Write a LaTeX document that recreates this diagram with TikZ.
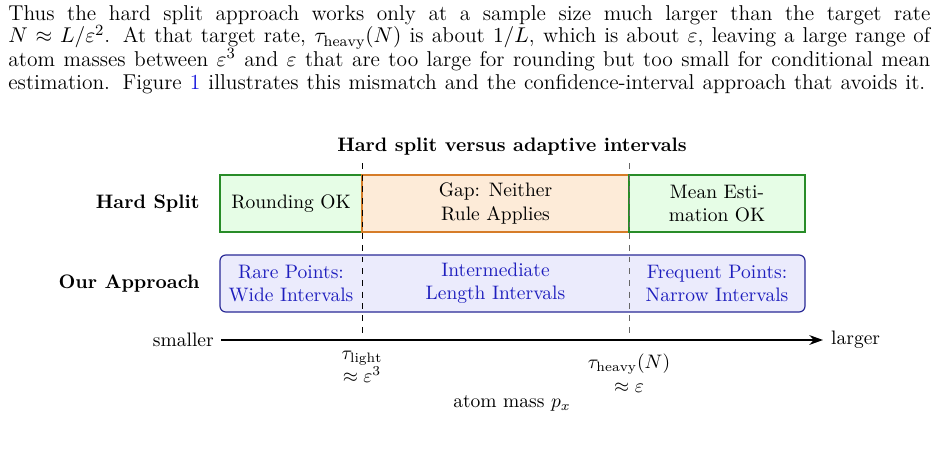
\documentclass[tikz,border=0pt]{standalone}
\usepackage{fontspec}
\usetikzlibrary{arrows.meta}
\newcommand\pxu{0.5128pt}
\definecolor{boxgreen}{RGB}{230,253,230}
\definecolor{linegreen}{RGB}{40,140,40}
\definecolor{boxorange}{RGB}{253,235,216}
\definecolor{lineorange}{RGB}{214,124,40}
\definecolor{boxblue}{RGB}{235,235,252}
\definecolor{lineblue}{RGB}{40,40,150}
\definecolor{textblue}{RGB}{30,30,190}
\definecolor{linkblue}{RGB}{20,20,220}
\tikzset{
  paraline/.style={anchor=base west, inner sep=0pt, font=\fontsize{11}{13}\selectfont},
  zonebox/.style={draw, line width=0.6pt, inner sep=0pt, align=center},
  rowlabel/.style={anchor=east, font=\bfseries, inner sep=0pt},
  bluetext/.style={text=textblue, align=center, inner sep=0pt},
  divider/.style={dashed, line width=0.5pt},
}
\begin{document}
\begin{tikzpicture}[x=0.5128pt,y=-0.5128pt]
\useasboundingbox (0,0) rectangle (937,451);
% paragraph
\node[paraline] (p1) at (8,20) {\makebox[472.8pt][s]{Thus the hard split approach works only at a sample size much larger than the target rate}};
\node[paraline] (p2) at (8,43) {\makebox[472.8pt][s]{$N\approx L/\varepsilon^2$. At that target rate, $\tau_{\mathrm{heavy}}(N)$ is about $1/L$, which is about $\varepsilon$, leaving a large range of}};
\node[paraline] (p3) at (8,66) {\makebox[472.8pt][s]{atom masses between $\varepsilon^3$ and $\varepsilon$ that are too large for rounding but too small for conditional mean}};
\node[paraline] (p4) at (8,89) {\makebox[470.2pt][s]{estimation. Figure {\color{linkblue}1} illustrates this mismatch and the confidence-interval approach that avoids it.}};
% title
\node[font=\bfseries] (title) at (512,147) {Hard split versus adaptive intervals};
% hard split row
\node[zonebox, fill=boxgreen, draw=linegreen, minimum width=142*\pxu, minimum height=57*\pxu] (round) at (291,203.5) {Rounding OK};
\node[zonebox, fill=boxorange, draw=lineorange, minimum width=267*\pxu, minimum height=57*\pxu] (gap) at (495.5,203.5) {Gap: Neither\\Rule Applies};
\node[zonebox, fill=boxgreen, draw=linegreen, minimum width=176*\pxu, minimum height=57*\pxu] (mean) at (717,203.5) {Mean Esti-\\mation OK};
% our approach row
\node[zonebox, fill=boxblue, draw=lineblue, rounded corners=3pt, minimum width=585*\pxu, minimum height=57*\pxu] (our) at (512.5,283.5) {};
\node[bluetext] (rare) at (291,283.5) {Rare Points:\\Wide Intervals};
\node[bluetext] (inter) at (495.5,283.5) {Intermediate\\Length Intervals};
\node[bluetext] (freq) at (717,283.5) {Frequent Points:\\Narrow Intervals};
% row labels
\node[rowlabel] (lhard) at (200,203.5) {Hard Split};
\node[rowlabel] (lour) at (200,283.5) {Our Approach};
% dividers
\coordinate (d1t) at (362,163);
\coordinate (d1b) at (362,336);
\coordinate (d2t) at (629,163);
\coordinate (d2b) at (629,336);
\draw[divider, black] (d1t) -- (d1b);
\draw[divider, black!60] (d2t) -- (d2b);
% axis
\coordinate (axl) at (221,340);
\coordinate (axr) at (823,340);
\draw[line width=0.8pt, -{Stealth[length=7pt,width=5pt]}] (axl) -- (axr);
\node[anchor=east, inner sep=3.5pt] (small) at (axl) {smaller};
\node[anchor=west, inner sep=4pt] (large) at (axr) {larger};
\node[align=center, inner sep=0pt] (tl) at (362,367) {$\tau_{\mathrm{light}}$\\$\approx\varepsilon^3$};
\node[align=center, inner sep=0pt] (th) at (629,373) {$\tau_{\mathrm{heavy}}(N)$\\$\approx\varepsilon$};
\node[inner sep=0pt] (mass) at (512,403) {atom mass $p_x$};
\end{tikzpicture}
\end{document}
